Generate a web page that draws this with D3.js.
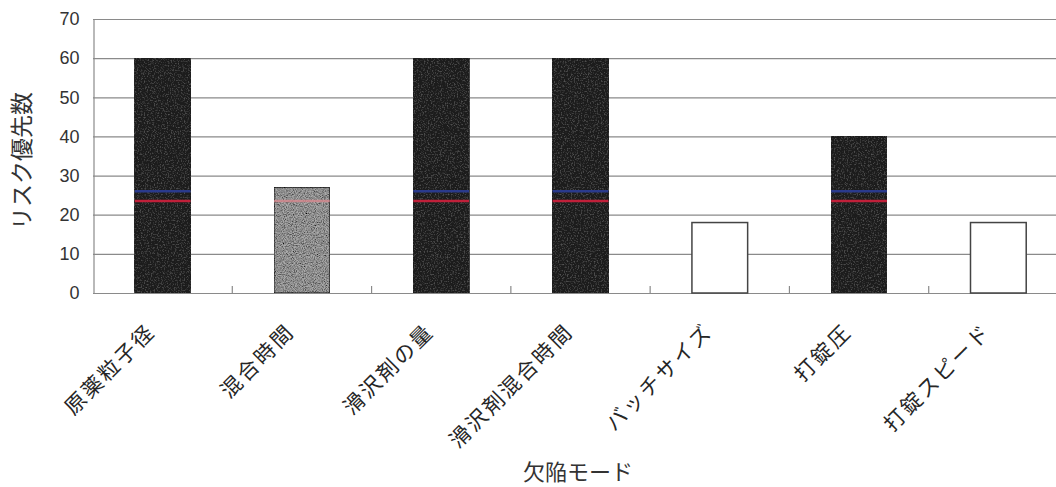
<!DOCTYPE html>
<html>
<head>
<meta charset="utf-8">
<script src="https://cdn.jsdelivr.net/npm/d3@7"></script>
<style>
  html, body { margin: 0; padding: 0; background: #fff; }
  svg { display: block; }
</style>
</head>
<body>
<svg id="chart" width="1056" height="487"></svg>
<script>
// Failure modes and their risk priority numbers
const categories = ["原薬粒子径", "混合時間", "滑沢剤の量", "滑沢剤混合時間", "バッチサイズ", "打錠圧", "打錠スピード"];
const riskValues = [60, 27, 60, 60, 18, 40, 18];
// Risk level of each failure mode: high / mid / low
const riskLevels = ["high", "mid", "high", "high", "low", "high", "low"];
// Reference levels marked across the bars
const redLevel = 23.5;
const blueLevel = 26;
const yTicks = [0, 10, 20, 30, 40, 50, 60, 70];
const yTitle = "リスク優先数";
const xTitle = "欠陥モード";

const svg = d3.select("#chart");
const W = 1056, H = 487;
const plot = { left: 93, right: 1068, top: 19, bottom: 293 };

const x = d3.scaleBand()
  .domain(categories)
  .range([plot.left, plot.right])
  .paddingInner(0.6)
  .paddingOuter(0.3);

const y = d3.scaleLinear().domain([0, 70]).range([plot.bottom, plot.top]);

// Grain textures for the filled bars
const defs = svg.append("defs");
const grainDark = defs.append("filter").attr("id", "grainDark")
  .attr("x", 0).attr("y", 0).attr("width", 1).attr("height", 1);
grainDark.append("feTurbulence").attr("type", "fractalNoise")
  .attr("baseFrequency", 0.7).attr("numOctaves", 2).attr("seed", 3).attr("result", "n");
grainDark.append("feColorMatrix").attr("in", "n").attr("type", "matrix")
  .attr("values", "0 0 0 0 0.3  0 0 0 0 0.3  0 0 0 0 0.3  0.8 0 0 0 -0.42")
  .attr("result", "specks");
grainDark.append("feComposite").attr("in", "specks").attr("in2", "SourceGraphic").attr("operator", "atop");

const grainGray = defs.append("filter").attr("id", "grainGray")
  .attr("x", 0).attr("y", 0).attr("width", 1).attr("height", 1);
grainGray.append("feTurbulence").attr("type", "fractalNoise")
  .attr("baseFrequency", 0.9).attr("numOctaves", 2).attr("seed", 7).attr("result", "n");
grainGray.append("feColorMatrix").attr("in", "n").attr("type", "matrix")
  .attr("values", "1.8 0 0 0 -0.25  1.8 0 0 0 -0.25  1.8 0 0 0 -0.25  0 0 0 0 1")
  .attr("result", "g");
grainGray.append("feColorMatrix").attr("in", "g").attr("type", "saturate").attr("values", 0).attr("result", "gs");
grainGray.append("feBlend").attr("in", "gs").attr("in2", "SourceGraphic").attr("mode", "multiply").attr("result", "b");
grainGray.append("feComposite").attr("in", "b").attr("in2", "SourceGraphic").attr("operator", "in");

// Horizontal gridlines
svg.append("g")
  .selectAll("line")
  .data(yTicks.filter(d => d > 0))
  .join("line")
  .attr("x1", plot.left).attr("x2", W)
  .attr("y1", d => y(d) + 0.5).attr("y2", d => y(d) + 0.5)
  .attr("stroke", "#8a8a8a").attr("stroke-width", 1.2);

// Y axis
const yAxis = svg.append("g")
  .attr("transform", `translate(${plot.left + 0.5},0)`)
  .call(d3.axisLeft(y).tickValues(yTicks).tickSize(0).tickPadding(14));
yAxis.select(".domain").attr("stroke", "#8a8a8a").attr("stroke-width", 1.2);
yAxis.selectAll("text")
  .attr("font-family", "'Liberation Sans', Arial, sans-serif")
  .attr("font-size", 18).attr("fill", "#333");

// X axis baseline and category boundary ticks
svg.append("line")
  .attr("x1", plot.left).attr("x2", W)
  .attr("y1", plot.bottom + 0.5).attr("y2", plot.bottom + 0.5)
  .attr("stroke", "#8a8a8a").attr("stroke-width", 1.2);
const boundaries = categories.slice(1).map(c => x(c) - x.step() * x.paddingInner() / 2);
svg.append("g").selectAll("line")
  .data(boundaries)
  .join("line")
  .attr("x1", d => d).attr("x2", d => d)
  .attr("y1", plot.bottom).attr("y2", plot.bottom - 7)
  .attr("stroke", "#8a8a8a").attr("stroke-width", 1.2);

// Bars
const fills = { high: "#1f1f1f", mid: "#ababab", low: "#ffffff" };
const bars = categories.map((c, i) => ({ c, v: riskValues[i], level: riskLevels[i] }));
svg.append("g").selectAll("rect")
  .data(bars)
  .join("rect")
  .attr("x", d => x(d.c))
  .attr("y", d => y(d.v))
  .attr("width", x.bandwidth())
  .attr("height", d => y(0) - y(d.v))
  .attr("fill", d => fills[d.level])
  .attr("stroke", d => d.level === "high" ? "#1f1f1f" : "#444")
  .attr("stroke-width", 1.5)
  .attr("filter", d => d.level === "high" ? "url(#grainDark)" : d.level === "mid" ? "url(#grainGray)" : null);

// Reference levels drawn across the filled bars
const marked = bars.filter(d => d.level !== "low");
svg.append("g").selectAll("line.blue")
  .data(marked.filter(d => d.v > blueLevel + 1))
  .join("line")
  .attr("x1", d => x(d.c)).attr("x2", d => x(d.c) + x.bandwidth())
  .attr("y1", y(blueLevel)).attr("y2", y(blueLevel))
  .attr("stroke", "#2a3a8c").attr("stroke-width", 2.5);
svg.append("g").selectAll("line.red")
  .data(marked)
  .join("line")
  .attr("x1", d => x(d.c)).attr("x2", d => x(d.c) + x.bandwidth())
  .attr("y1", y(redLevel)).attr("y2", y(redLevel))
  .attr("stroke", d => d.level === "high" ? "#c0203a" : "#d88a90")
  .attr("stroke-width", 2.5)
  .attr("opacity", d => d.level === "high" ? 1 : 0.8);

// Category labels, rotated
svg.append("g").selectAll("text")
  .data(categories)
  .join("text")
  .attr("transform", d => `translate(${x(d) + x.bandwidth() / 2 - 6},${plot.bottom + 40}) rotate(-45)`)
  .attr("text-anchor", "end")
  .attr("font-family", "'Noto Sans CJK JP', sans-serif")
  .attr("font-size", 21)
  .attr("letter-spacing", 2.5)
  .attr("fill", "#262626")
  .text(d => d);

// Axis titles
svg.append("text")
  .attr("transform", `translate(30,${(plot.top + plot.bottom) / 2 + 5}) rotate(-90)`)
  .attr("text-anchor", "middle")
  .attr("font-family", "'Noto Sans CJK JP', sans-serif")
  .attr("font-size", 23)
  .attr("fill", "#333")
  .text(yTitle);

svg.append("text")
  .attr("x", 578).attr("y", 480)
  .attr("text-anchor", "middle")
  .attr("font-family", "'Noto Sans CJK JP', sans-serif")
  .attr("font-size", 22)
  .attr("fill", "#333")
  .text(xTitle);
</script>
</body>
</html>
